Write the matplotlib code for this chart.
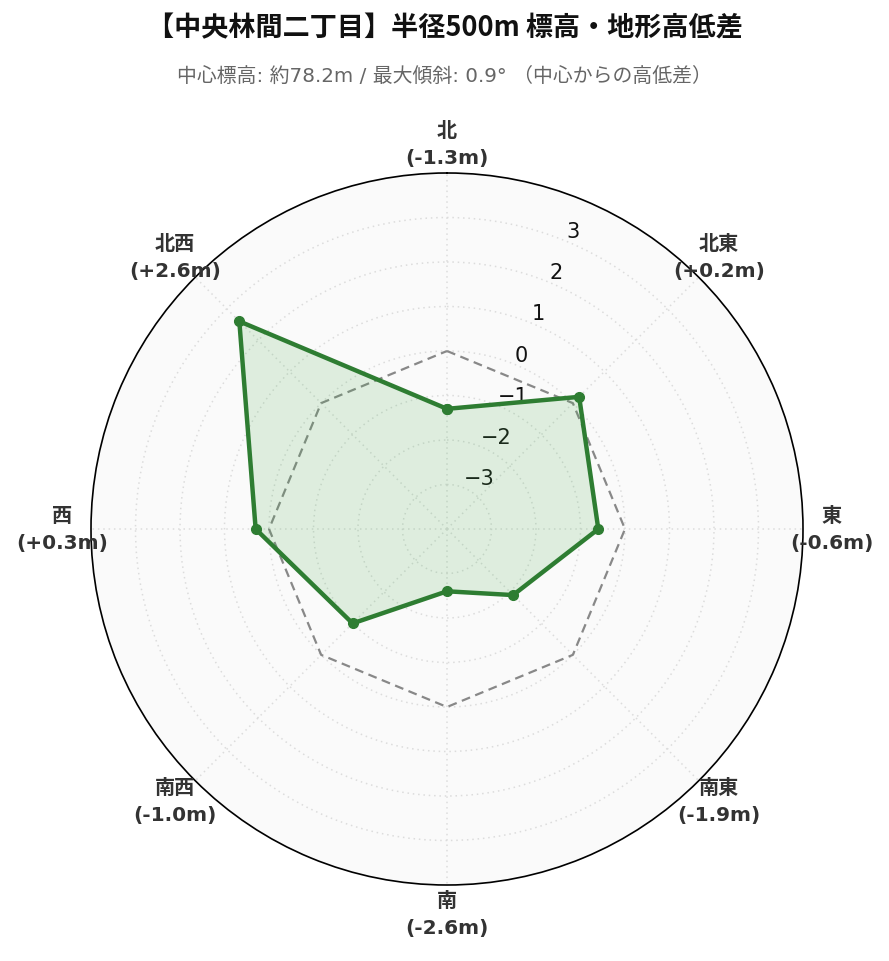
import numpy as np
import matplotlib
matplotlib.use("Agg")
import matplotlib.pyplot as plt

plt.rcParams['font.family'] = ['Noto Sans CJK JP', 'DejaVu Sans']

directions = ["北", "北東", "東", "南東", "南", "南西", "西", "北西"]
values = [-1.3, 0.2, -0.6, -1.9, -2.6, -1.0, 0.3, 2.6]
rticks = [-3, -2, -1, 0, 1, 2, 3]
title = "【中央林間二丁目】半径500m 標高・地形高低差"
subtitle = "中心標高: 約78.2m / 最大傾斜: 0.9° （中心からの高低差）"

n = len(directions)
angles = np.arange(n) * 2 * np.pi / n
ang_c = np.append(angles, angles[0])
val_c = np.append(values, values[0])
zero_c = np.zeros_like(ang_c)

fig = plt.figure(figsize=(8.89, 9.62), dpi=100)
ax = fig.add_axes([91/889, 1-886/962, 712/889, 712/962], projection='polar')
ax.set_theta_offset(np.pi/2)
ax.set_theta_direction(-1)
ax.set_facecolor('#fafafa')
ax.set_ylim(-4, 4)

ax.plot(ang_c, zero_c, color='#888888', lw=1.6, ls=(0, (4, 2.5)), zorder=2)
ax.fill(ang_c, val_c, color='#4caf50', alpha=0.16, zorder=3, lw=0)
ax.plot(ang_c, val_c, color='#2e7d32', lw=3.2, marker='o', ms=7, zorder=4)

ax.set_xticks(angles)
ax.set_xticklabels([])
ax.set_yticks(rticks)
ax.set_yticklabels([f"{t}".replace('-', '\u2212') for t in rticks],
                   fontdict={'family': 'DejaVu Sans', 'size': 15, 'color': '#111111'})
ax.tick_params(axis='y', labelsize=15, labelcolor='#111111')
ax.set_rlabel_position(22.5)
ax.grid(True, color='#dcdcdc', ls=(0, (1, 2.5)), lw=1.1)
ax.spines['polar'].set_color('black')
ax.spines['polar'].set_linewidth(1.2)

for a, d, v in zip(angles, directions, values):
    ax.text(a, 4.65, f"{d}\n({v:+.1f}m)", ha='center', va='center', fontsize=14.5,
            fontweight='bold', color='#333333', clip_on=False, linespacing=1.55,
            family=['DejaVu Sans', 'Noto Sans CJK JP'])

fig.text(0.5, 1-28/962, title, ha='center', va='center', fontsize=19.5, fontweight='bold',
         color='#111111', family=['Noto Sans CJK JP', 'DejaVu Sans'])
fig.text(0.5, 1-76/962, subtitle, ha='center', va='center', fontsize=14.3, color='#666666',
         family=['DejaVu Sans', 'Noto Sans CJK JP'])

fig.savefig('out.png', dpi=100, facecolor='white')
